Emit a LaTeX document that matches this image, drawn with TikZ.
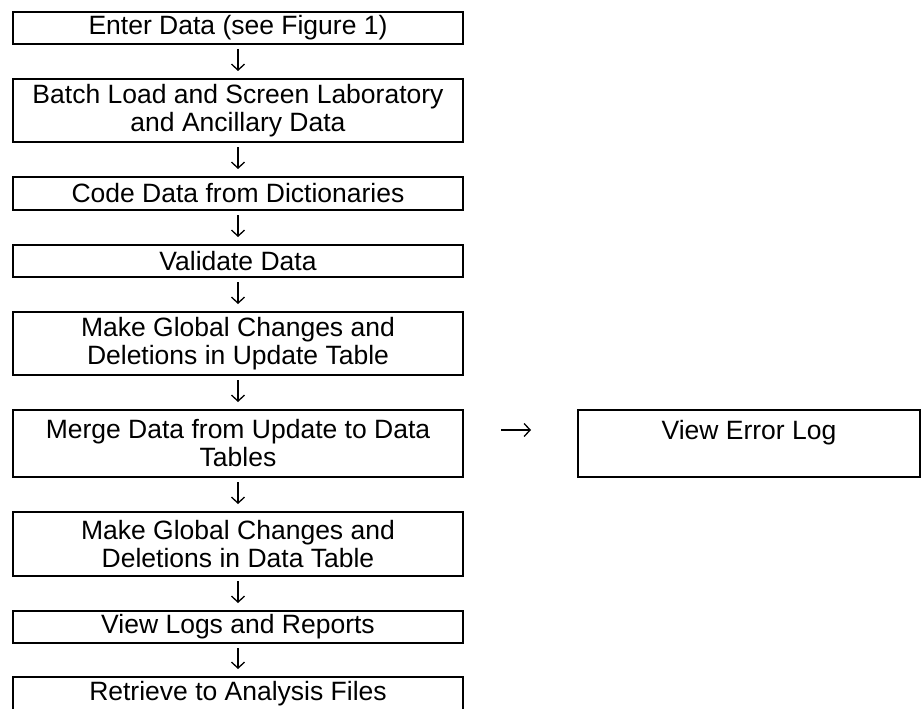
\documentclass[tikz,border=0pt]{standalone}
\usepackage{fontspec}
\setmainfont{Liberation Sans}
\usetikzlibrary{arrows.meta}

\tikzset{
    vak/.style={draw=black, line width=2pt, inner sep=0pt, align=center,
        minimum width=450pt, font=\fontsize{26.5}{28}\selectfont},
    pijl/.style={-{Straight Barb[length=6pt, width=13pt]}, line width=1.3pt,
        shorten <=4pt, shorten >=7pt}
}

\begin{document}
\begin{tikzpicture}[x=1pt, y=-1pt]
            \useasboundingbox (0,0) rectangle (921,709);

            % --- HOOFDSTROOM (Links) ---
            \node[vak, minimum height=32pt] (b1) at (238, 28) {Enter Data (see Figure 1)};
            \node[vak, minimum height=63pt] (b2) at (238, 110.5) {Batch Load and Screen Laboratory\\and Ancillary Data};
            \node[vak, minimum height=33pt] (b3) at (238, 193.5) {Code Data from Dictionaries};
            \node[vak, minimum height=32pt] (b4) at (238, 261) {Validate Data};
            \node[vak, minimum height=63pt] (b5) at (238, 343.5) {Make Global Changes and\\Deletions in Update Table};
            \node[vak, minimum height=67pt] (b6) at (238, 443.5) {Merge Data from Update to Data\\Tables};
            \node[vak, minimum height=64pt] (b7) at (238, 544) {Make Global Changes and\\Deletions in Data Table};
            \node[vak, minimum height=32pt] (b8) at (238, 627) {View Logs and Reports};
            \node[vak, minimum height=33pt] (b9) at (238, 693.5) {Retrieve to Analysis Files};

            % Pijlen tussen de stappen
            \foreach \van/\naar in {b1/b2, b2/b3, b3/b4, b4/b5, b5/b6, b6/b7, b7/b8, b8/b9} {
                \draw[pijl] (\van) -- (\naar);
            }

            % --- FOUTENLOG (Rechts) ---
            \node[vak, minimum width=342pt, minimum height=67pt] (log) at (749, 443.5) {View Error Log\\~};
            \draw[pijl, shorten <=37pt, shorten >=46pt] ([yshift=13.5pt]b6.east) -- ([yshift=13.5pt]log.west);
        \end{tikzpicture}
\end{document}
